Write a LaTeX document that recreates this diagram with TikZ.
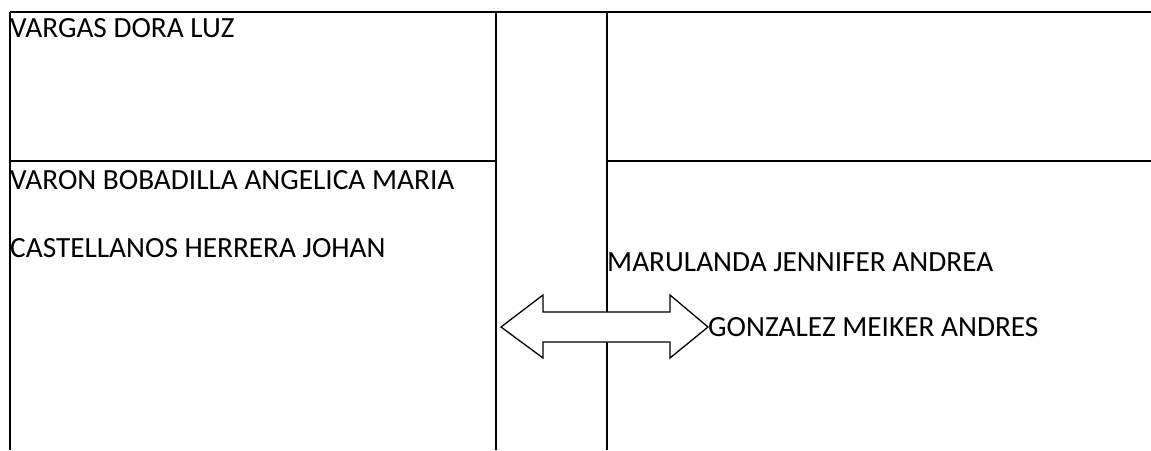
\documentclass[tikz,border=0pt]{standalone}
\usepackage{fontspec}
\setmainfont{Carlito}
\usetikzlibrary{positioning}

\begin{document}
\begin{tikzpicture}[
    x=1pt, y=-1pt,
    rule/.style={line width=2pt},
    member/.style={anchor=base west, inner sep=0pt, font=\fontsize{29.3}{34}\selectfont},
    link/.style={draw, line width=1.3pt, fill=white, line join=miter}
]
\useasboundingbox (0,0) rectangle (1151,450);

% grid of the sheet
\coordinate (tl) at (10,12);
\coordinate (tr) at (1151,12);
\coordinate (bl) at (10,450);
\coordinate (ca) at (496,12);
\coordinate (cb) at (496,450);
\coordinate (da) at (607,12);
\coordinate (db) at (607,450);
\coordinate (ml) at (10,161);
\coordinate (mc) at (496,161);
\coordinate (md) at (607,161);
\coordinate (mr) at (1151,161);

\draw[rule] (tl) -- (tr);
\draw[rule] (tl) -- (bl);
\draw[rule] (ca) -- (cb);
\draw[rule] (da) -- (db);
\draw[rule] (ml) -- (mc);
\draw[rule] (md) -- (mr);

% double arrow
\draw[link] (501,327) -- (543,295) -- (543,312) -- (670,312) -- (670,295)
    -- (708,327) -- (670,358) -- (670,342) -- (543,342) -- (543,358) -- cycle;

\node[member] (vargas)  at (10,37)  {VARGAS DORA LUZ};
\node[member] (varon)   at (10,189) {VARON BOBADILLA ANGELICA MARIA};
\node[member] (castel)  at (10,257) {CASTELLANOS HERRERA JOHAN};
\node[member] (marul)   at (607,271) {MARULANDA JENNIFER ANDREA};
\node[member] (gonza)   at (708,336) {GONZALEZ MEIKER ANDRES};
\end{tikzpicture}
\end{document}
